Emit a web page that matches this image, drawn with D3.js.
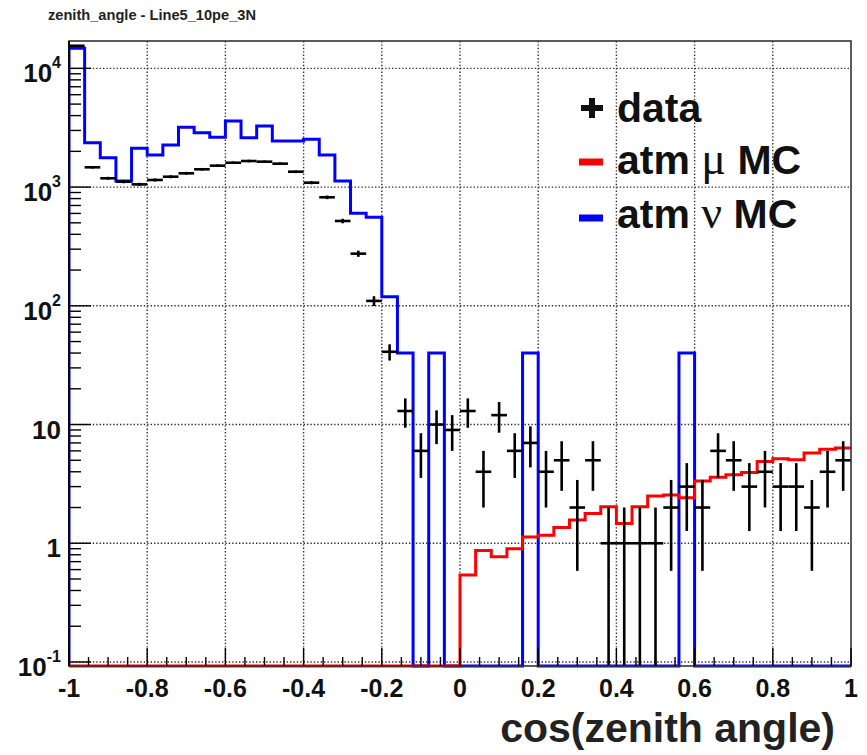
<!DOCTYPE html>
<html>
<head>
<meta charset="utf-8">
<script src="https://cdn.jsdelivr.net/npm/d3@7"></script>
<style>
  body { margin: 0; background: #fff; }
  svg { display: block; font-family: "Liberation Sans", Arial, sans-serif; }
</style>
</head>
<body>
<div id="chart"></div>
<script>
(function () {
    // --- Binning: 50 bins of cos(zenith) from -1 to 1 ---
    const X_MIN = -1, X_MAX = 1, N_BINS = 50;

    // data (counts per bin)
    const dataCounts = [
        15500, 1468, 1186, 1110, 1054, 1148, 1223, 1306, 1412, 1515,
        1604, 1658, 1637, 1575, 1348, 1089, 820, 518, 275, 110,
        41, 13, 6, 10, 9, 13, 4, 12, 6, 7,
        4, 5, 2, 5, 1, 1, 1, 1, 2, 3,
        2, 6, 5, 3, 4, 3, 3, 2, 4, 5
    ];
    // atm nu MC (blue)
    const nuMC = [
        14750, 2365, 1767, 1125, 2122, 1862, 2262, 3187, 2870, 2625,
        3600, 2606, 3268, 2443, 2443, 2525, 1862, 1125, 601, 556,
        119, 40, 0, 40, 0, 0, 0, 0, 0, 40,
        0, 0, 0, 0, 0, 0, 0, 0, 0, 40,
        0, 0, 0, 0, 0, 0, 0, 0, 0, 0
    ];
    // atm mu MC (red)
    const muMC = [
        0, 0, 0, 0, 0, 0, 0, 0, 0, 0,
        0, 0, 0, 0, 0, 0, 0, 0, 0, 0,
        0, 0, 0, 0, 0, 0.54, 0.87, 0.77, 0.9, 1.13,
        1.17, 1.36, 1.57, 1.78, 2.03, 1.47, 2.03, 2.5, 2.55, 2.42,
        3.35, 3.6, 3.77, 3.94, 4.88, 5.15, 5.05, 5.75, 6.2, 6.35
    ];

    const xTickValues = [-1, -0.8, -0.6, -0.4, -0.2, 0, 0.2, 0.4, 0.6, 0.8, 1];
    const xTickLabels = ["-1", "-0.8", "-0.6", "-0.4", "-0.2", "0", "0.2", "0.4", "0.6", "0.8", "1"];
    const yTickValues = [0.1, 1, 10, 100, 1000, 10000];
    const yTickBases = ["10", "1", "10", "10", "10", "10"];
    const yTickExps = ["-1", "", "", "2", "3", "4"];

    const Y_MIN = 0.0925, Y_MAX = 17000;

    // --- Layout ---
    const W = 867, H = 755;
    const frame = { left: 69, right: 851, top: 41, bottom: 666 };

    const svg = d3.select("#chart").append("svg")
        .attr("width", W).attr("height", H);

    const x = d3.scaleLinear().domain([X_MIN, X_MAX]).range([frame.left, frame.right]);
    const y = d3.scaleLog().domain([Y_MIN, Y_MAX]).range([frame.bottom, frame.top]);

    const binW = (X_MAX - X_MIN) / N_BINS;
    const binLow = i => X_MIN + i * binW;
    // empty bins sit on the bottom of the frame, like ROOT does
    const yv = v => v > 0 ? Math.max(frame.top, Math.min(frame.bottom, y(v))) : frame.bottom;

    svg.append("defs").append("clipPath").attr("id", "frameClip")
        .append("rect")
        .attr("x", frame.left).attr("y", frame.top - 2)
        .attr("width", frame.right - frame.left)
        .attr("height", frame.bottom - frame.top + 4);

    // title
    svg.append("text")
        .attr("x", 48).attr("y", 20)
        .attr("font-size", 15.5).attr("font-weight", "bold").attr("fill", "#222")
        .attr("textLength", 208).attr("lengthAdjust", "spacingAndGlyphs")
        .text("zenith_angle - Line5_10pe_3N");

    // --- Grid (dotted) ---
    const grid = svg.append("g")
        .attr("stroke", "#333").attr("stroke-width", 1.4)
        .attr("stroke-dasharray", "1.4,2");
    grid.selectAll("line.gx")
        .data(xTickValues.filter(v => v > X_MIN && v < X_MAX))
        .join("line").attr("class", "gx")
        .attr("x1", d => x(d)).attr("x2", d => x(d))
        .attr("y1", frame.top).attr("y2", frame.bottom);
    grid.selectAll("line.gy")
        .data(yTickValues)
        .join("line").attr("class", "gy")
        .attr("x1", frame.left).attr("x2", frame.right)
        .attr("y1", d => y(d)).attr("y2", d => y(d));

    // --- Histograms ---
    function stepPath(vals) {
        let p = "M" + x(X_MIN) + "," + frame.bottom;
        vals.forEach((v, i) => {
            const yy = yv(v);
            p += "L" + x(binLow(i)) + "," + yy + "L" + x(binLow(i + 1)) + "," + yy;
        });
        return p;
    }

    const plot = svg.append("g").attr("clip-path", "url(#frameClip)");

    plot.append("path")
        .attr("d", stepPath(nuMC))
        .attr("fill", "none").attr("stroke", "#0000ff").attr("stroke-width", 3);

    plot.append("path")
        .attr("d", stepPath(muMC))
        .attr("fill", "none").attr("stroke", "#ff0000").attr("stroke-width", 3);

    // data points: horizontal bar = bin width, vertical bar = sqrt(N)
    const pts = plot.append("g").attr("stroke", "#000").attr("stroke-width", 2.6);
    const dataRows = dataCounts.map((n, i) => ({ i, n }));
    pts.selectAll("line.h")
        .data(dataRows.filter(d => d.n > 0))
        .join("line").attr("class", "h")
        .attr("x1", d => x(binLow(d.i))).attr("x2", d => x(binLow(d.i + 1)))
        .attr("y1", d => yv(d.n)).attr("y2", d => yv(d.n));
    pts.selectAll("line.v")
        .data(dataRows.filter(d => d.n > 0))
        .join("line").attr("class", "v")
        .attr("x1", d => x(binLow(d.i) + binW / 2)).attr("x2", d => x(binLow(d.i) + binW / 2))
        .attr("y1", d => yv(d.n - Math.sqrt(d.n)))
        .attr("y2", d => yv(d.n + Math.sqrt(d.n)));

    // --- Frame and axes ---
    svg.append("rect")
        .attr("x", frame.left).attr("y", frame.top)
        .attr("width", frame.right - frame.left).attr("height", frame.bottom - frame.top)
        .attr("fill", "none").attr("stroke", "#333").attr("stroke-width", 1.6);
    svg.append("line")
        .attr("x1", frame.left).attr("x2", frame.left)
        .attr("y1", frame.top).attr("y2", frame.bottom)
        .attr("stroke", "#000").attr("stroke-width", 1.8);

    const ticks = svg.append("g").attr("stroke", "#000").attr("stroke-width", 1.4);

    // x ticks: major every 0.2, minor every 0.05
    const xMinor = d3.range(0, 41).map(i => X_MIN + i * 0.05);
    ticks.selectAll("line.xt")
        .data(xMinor)
        .join("line").attr("class", "xt")
        .attr("x1", d => x(d)).attr("x2", d => x(d))
        .attr("y1", frame.bottom)
        .attr("y2", (d, i) => frame.bottom - (i % 4 === 0 ? 18 : 9));

    // y ticks: decades and 2..9 minors
    const yMinor = [];
    for (let e = -2; e <= 4; e++) {
        for (let m = 1; m <= 9; m++) {
            const v = m * Math.pow(10, e);
            if (v >= Y_MIN && v <= Y_MAX) yMinor.push({ v, major: m === 1 });
        }
    }
    ticks.selectAll("line.yt")
        .data(yMinor)
        .join("line").attr("class", "yt")
        .attr("x1", frame.left)
        .attr("x2", d => frame.left + (d.major ? 22 : 12))
        .attr("y1", d => y(d.v)).attr("y2", d => y(d.v));

    // x tick labels
    svg.append("g").selectAll("text")
        .data(xTickValues)
        .join("text")
        .attr("x", d => x(d)).attr("y", 697)
        .attr("text-anchor", "middle")
        .attr("font-size", 25).attr("font-weight", "bold").attr("fill", "#111")
        .text((d, i) => xTickLabels[i]);

    // y tick labels with exponents
    const yl = svg.append("g").selectAll("text")
        .data(yTickValues)
        .join("text")
        .attr("x", 61).attr("y", d => y(d) + 14)
        .attr("text-anchor", "end")
        .attr("font-size", 26).attr("font-weight", "bold").attr("fill", "#111");
    yl.append("tspan").text((d, i) => yTickBases[i]);
    yl.append("tspan")
        .attr("font-size", 16).attr("dy", -14)
        .text((d, i) => yTickExps[i]);

    // x axis title
    svg.append("text")
        .attr("x", 835).attr("y", 742)
        .attr("text-anchor", "end")
        .attr("font-size", 41).attr("font-weight", "bold").attr("fill", "#222")
        .text("cos(zenith angle)");

    // --- Legend ---
    const leg = svg.append("g").attr("font-size", 41).attr("font-weight", "bold").attr("fill", "#111");
    leg.append("line").attr("x1", 581).attr("x2", 603).attr("y1", 108).attr("y2", 108)
        .attr("stroke", "#111").attr("stroke-width", 6);
    leg.append("line").attr("x1", 592).attr("x2", 592).attr("y1", 98).attr("y2", 118)
        .attr("stroke", "#111").attr("stroke-width", 6);
    leg.append("text").attr("x", 617).attr("y", 122).text("data");

    leg.append("line").attr("x1", 579).attr("x2", 603).attr("y1", 162).attr("y2", 162)
        .attr("stroke", "#ff0000").attr("stroke-width", 7);
    const t2 = leg.append("text").attr("x", 617).attr("y", 174);
    t2.append("tspan").text("atm ");
    t2.append("tspan").attr("font-family", "Liberation Serif").attr("font-weight", "normal")
        .attr("font-size", 46).text("μ");
    t2.append("tspan").text(" MC");

    leg.append("line").attr("x1", 579).attr("x2", 603).attr("y1", 218).attr("y2", 218)
        .attr("stroke", "#0000ff").attr("stroke-width", 7);
    const t3 = leg.append("text").attr("x", 617).attr("y", 228);
    t3.append("tspan").text("atm ");
    t3.append("tspan").attr("font-family", "Liberation Serif").attr("font-weight", "normal")
        .attr("font-size", 46).text("ν");
    t3.append("tspan").text(" MC");
})();
</script>
</body>
</html>
